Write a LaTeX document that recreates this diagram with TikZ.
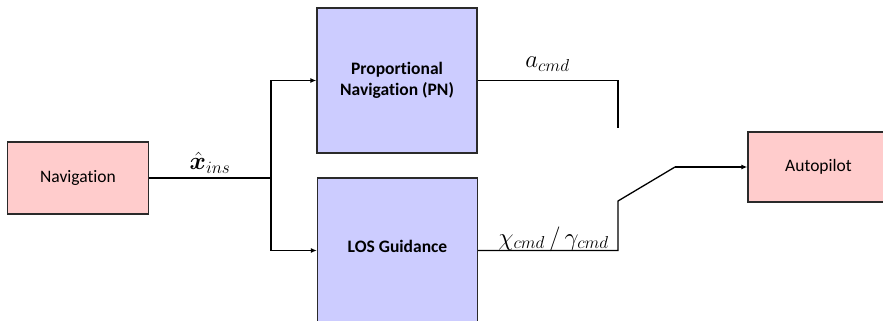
\documentclass[tikz,border=0pt]{standalone}
\usepackage{amsmath}
\usepackage{bm}
\usepackage{fontspec}
\setmainfont{Carlito}[RawFeature=-liga]
\usetikzlibrary{arrows.meta}

\definecolor{blockpink}{HTML}{FFCCCC}
\definecolor{blockblue}{HTML}{CCCCFF}
\definecolor{edge}{HTML}{2A2A2A}

\tikzset{
  block/.style={draw=edge, line width=1.4pt, inner sep=0pt,
    font=\fontsize{17.5}{21}\selectfont, align=center},
  navblock/.style={block, fill=blockpink, minimum width=141pt, minimum height=72pt},
  guideblock/.style={block, fill=blockblue, minimum width=160pt, minimum height=145pt,
    font=\fontsize{17.5}{21}\selectfont\bfseries},
  signal/.style={line width=1.3pt, line join=miter},
  feed/.style={signal, -{Latex[length=6pt,width=5pt]}},
  siglabel/.style={font=\fontsize{23}{27}\selectfont, inner sep=0pt}
}

\begin{document}
\begin{tikzpicture}[x=1pt, y=-1pt]
  \useasboundingbox (0,0) rectangle (883,321);
  \clip (0,0) rectangle (883,321);

  % blocks
  \node[navblock] (nav) at (78,178) {Navigation};
  \node[guideblock] (pn) at (397,80.5) {Proportional\\Navigation (PN)};
  \node[guideblock, text depth=8pt] (los) at (397.5,250.5) {LOS Guidance};
  \node[navblock, minimum height=70pt] (ap) at (818.5,167) {Autopilot};

  % junction and switch points
  \coordinate (split) at (271,178);
  \coordinate (pnend) at (618,128);
  \coordinate (swbase) at (618,201);
  \coordinate (swtip) at (675,167);

  % estimated state to both guidance laws
  \draw[signal] (nav.east) -- (split);
  \draw[feed] (split) |- (pn.west);
  \draw[feed] (split) |- (los.west);

  % guidance outputs and selector switch
  \draw[signal] (pn.east) -| (pnend);
  \draw[signal] (los.east) -| (swbase) -- (swtip);
  \draw[feed] (swtip) -- (ap.west);

  % signal labels
  \node[siglabel] (lx) at (210,163) {$\bm{\hat{x}}_{ins}$};
  \node[siglabel] (la) at (547.5,64) {$a_{cmd}$};
  \node[siglabel] (lc) at (553.5,239) {$\chi_{cmd}\,/\,\gamma_{cmd}$};
\end{tikzpicture}
\end{document}
